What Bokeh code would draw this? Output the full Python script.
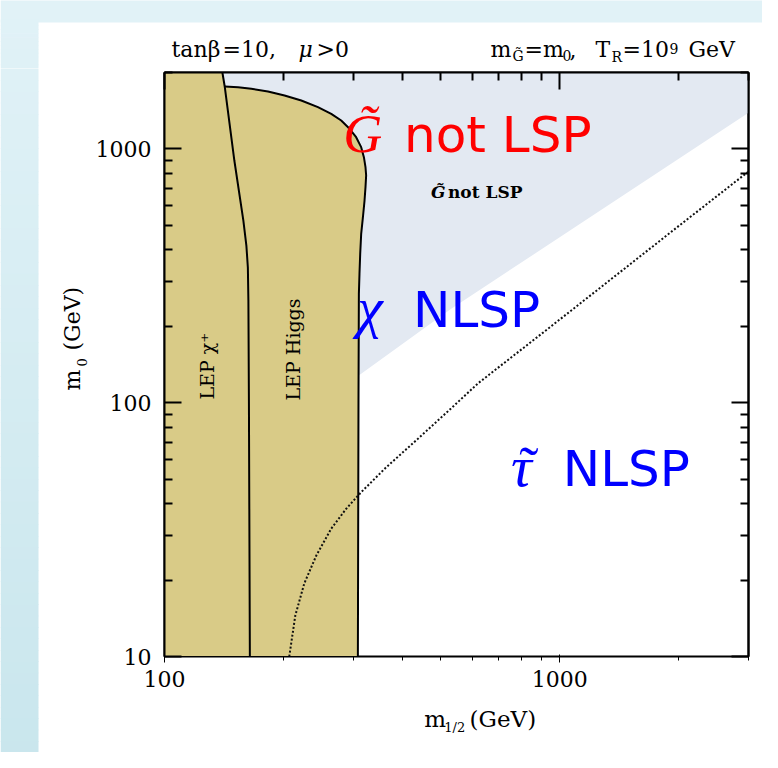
import math
from bokeh.plotting import figure
from bokeh.layouts import row, column
from bokeh.models import (LogAxis, FixedTicker, CustomJSTickFormatter, Label, Range1d)
from bokeh.embed import file_html
from bokeh.resources import INLINE

# ---------------- data (GeV) ----------------
x_lo, x_hi = 100, 3000          # m_1/2 range
y_lo, y_hi = 10, 2000           # m_0 range
x_major = [100, 1000]
x_minor = [200, 300, 400, 500, 600, 700, 800, 900, 2000, 3000]
y_major = [10, 100, 1000]
y_minor = [20, 30, 40, 50, 60, 70, 80, 90, 200, 300, 400, 500, 600, 700, 800, 900, 2000]

# LEP chargino limit
chargino_x = [140.1, 142.0, 150.2, 158.3, 161.1, 162.5, 163.0, 163.5, 164.4]
chargino_y = [2000, 1762, 900, 522, 416, 341, 253, 102, 10]

# LEP Higgs limit
higgs_x = [142.0, 153.5, 165.8, 182.7, 201.2, 221.8, 244.4, 264.1, 279.9, 293.8, 305.3, 314.4,
           319.4, 322.4, 323.6, 322.4, 320.6, 317.6, 314.4, 312.6, 311.3, 310.2, 309.5, 308.4]
higgs_y = [1762, 1751, 1725, 1684, 1623, 1551, 1460, 1375, 1294, 1200, 1112, 1016,
           928, 847, 786, 707, 626, 538, 463, 386, 322, 269, 102, 10]

# gravitino-not-LSP boundary (m_G = m_0)
gnlsp_x = [310, 530, 3000]
gnlsp_y = [128, 234, 1387]

# neutralino / stau NLSP boundary (dotted)
stau_x = [206.8, 214.2, 225.7, 242.1, 264.1, 288.1, 314.4, 363.5, 432.8, 530.5, 620.5, 948.8, 1400.6, 2020.6, 3000]
stau_y = [10, 14.5, 19.4, 25.0, 31.9, 38.2, 44.4, 55.6, 71.0, 94.9, 119.1, 199.6, 321.5, 503.7, 814.7]

# ---------------- page geometry ----------------
TOT_W, TOT_H = 762, 752
TOP_H = 68          # title band height
LEFT_W = 92         # y-title band width
MAIN_W = TOT_W - LEFT_W
B_TOP, B_BOT, B_LEFT, B_RIGHT = 4, 40, 71, 14
FRAME_W, FRAME_H = 585, 584
MAIN_H = B_TOP + FRAME_H + B_BOT
BOT_H = TOT_H - TOP_H - MAIN_H
F_L, F_T = LEFT_W + B_LEFT, TOP_H + B_TOP          # frame corner on page
F_R, F_B = F_L + FRAME_W, F_T + FRAME_H
LX0, LX1 = math.log10(x_lo), math.log10(x_hi)
LY0, LY1 = math.log10(y_lo), math.log10(y_hi)
MID = 0.345   # label anchors are placed at the em-box middle


def dx(px):
    return 10 ** (LX0 + (px - F_L) / FRAME_W * (LX1 - LX0))


def dy(py):
    return 10 ** (LY0 + (F_B - py) / FRAME_H * (LY1 - LY0))


SERIF = "DejaVu Serif"
RED, BLUE = "#ff0000", "#0000ff"
TOP_COL, BOT_COL = (225, 242, 247), (201, 230, 237)
R = math.pi / 2


def grad(py):
    t = min(max(py / 768.0, 0), 1)
    c = tuple(int(round(TOP_COL[k] + (BOT_COL[k] - TOP_COL[k]) * t)) for k in range(3))
    return "#%02x%02x%02x" % c


def band(w, h):
    f = figure(width=w, height=h, x_range=Range1d(0, w), y_range=Range1d(0, h),
               output_backend="svg", toolbar_location=None, min_border=0,
               x_axis_location=None, y_axis_location=None)
    f.grid.visible = False
    f.outline_line_color = None
    f.background_fill_color = "white"
    f.border_fill_color = "white"
    return f


def blabel(f, x0, y0, h, txt, px, py, size, font=SERIF, style="normal", color="black",
           angle=0.0, align="left"):
    # (px, py): baseline start point on the page
    if angle:
        ax, ay = px - MID * size, py
    else:
        ax, ay = px, py - MID * size
    f.add_layout(Label(x=ax - x0, y=(y0 + h) - ay, text=txt, text_font=font,
                       text_font_size="%dpx" % size, text_font_style=style,
                       text_color=color, angle=angle, text_align=align,
                       text_baseline="middle"))


def strip(f, x0, y0, h, left, right, top, bottom, n):
    step = (bottom - top) / n
    ls, rs, ts, bs, cs = [], [], [], [], []
    for i in range(n):
        a, b = top + i * step, top + (i + 1) * step
        ls.append(left - x0); rs.append(right - x0)
        ts.append((y0 + h) - a + (2 if i == 0 else 0))
        bs.append((y0 + h) - b - (2 if i == n - 1 else 0.6))
        cs.append(grad((a + b) / 2))
    f.quad(left=ls, right=rs, top=ts, bottom=bs, fill_color=cs, line_color=None)


# ---------------- title band ----------------
tb = band(TOT_W, TOP_H)
tb.quad(left=[0], right=[TOT_W], top=[TOP_H + 2], bottom=[TOP_H - 22], fill_color=grad(0), line_color=None)
strip(tb, 0, 0, TOP_H, 0, 38, 21, TOP_H, 12)
T = lambda *a, **k: blabel(tb, 0, 0, TOP_H, *a, **k)
T("tanβ", 171, 57, 22)
T("=10,", 222, 57, 22)
T("μ", 298, 57, 22, style="italic")
T(">0", 316, 57, 22)
T("m", 490, 57, 22)
T("G\u0303", 512, 60, 14)
T("=m", 524, 57, 22)
T("0", 562, 60, 14)
T(",", 569, 57, 22)
T("T", 595, 57, 22)
T("R", 611, 61, 14)
T("=10", 622, 57, 22)
T("9", 669, 53, 14)
T("GeV", 688, 57, 22)

# ---------------- left band (y title) ----------------
LH = TOT_H - TOP_H
lb = band(LEFT_W, LH)
strip(lb, 0, TOP_H, LH, 0, 38, TOP_H, TOT_H, 60)
L = lambda *a, **k: blabel(lb, 0, TOP_H, LH, *a, **k)
L("m", 80, 390, 22, angle=R)
L("0", 86, 366, 13, angle=R)
L("(GeV)", 80, 350, 22, angle=R)

# ---------------- bottom band (x title) ----------------
bb = band(MAIN_W, BOT_H)
BY0 = TOP_H + MAIN_H
Bt = lambda *a, **k: blabel(bb, LEFT_W, BY0, BOT_H, *a, **k)
Bt("m", 390, 726, 23)
Bt("1/2", 413, 731, 13)
Bt("(GeV)", 442, 726, 23)

# ---------------- main plot ----------------
p = figure(width=MAIN_W, height=MAIN_H, x_axis_type="log", y_axis_type="log",
           x_range=Range1d(x_lo, x_hi), y_range=Range1d(y_lo, y_hi),
           output_backend="svg", toolbar_location=None,
           min_border_left=B_LEFT, min_border_right=B_RIGHT,
           min_border_top=B_TOP, min_border_bottom=B_BOT)
p.xgrid.visible = False
p.ygrid.visible = False
p.background_fill_color = "white"
p.border_fill_color = "white"
p.outline_line_color = "black"
p.outline_line_width = 2

# gravitino not LSP region
p.patch([x_lo] + gnlsp_x + [x_hi, x_lo], [gnlsp_y[0]] + gnlsp_y + [y_hi, y_hi],
        fill_color="#e3e9f2", line_color=None)

# LEP excluded region
tan_x = [x_lo, x_lo, chargino_x[0]] + higgs_x
tan_y = [y_lo, y_hi, chargino_y[0]] + higgs_y
p.patch(tan_x, tan_y, fill_color="#d9cb87", line_color=None)

p.line(chargino_x, chargino_y, line_color="black", line_width=2)
p.line(higgs_x, higgs_y, line_color="black", line_width=2)
p.line(stau_x, stau_y, line_color="#111111", line_width=2, line_dash="2 2")

for ax in (p.xaxis[0], p.yaxis[0]):
    ax.major_label_text_font = SERIF
    ax.major_label_text_font_size = "22px"
    ax.major_label_text_color = "black"
    ax.formatter = CustomJSTickFormatter(code="return tick.toFixed(0)")
p.xaxis[0].ticker = FixedTicker(ticks=x_major, minor_ticks=x_minor)
p.yaxis[0].ticker = FixedTicker(ticks=y_major, minor_ticks=y_minor)
p.xaxis[0].major_label_standoff = 8
p.yaxis[0].major_label_standoff = 13

top_ax = LogAxis(ticker=FixedTicker(ticks=x_major, minor_ticks=x_minor),
                 formatter=CustomJSTickFormatter(code="return ''"))
right_ax = LogAxis(ticker=FixedTicker(ticks=y_major, minor_ticks=y_minor),
                   formatter=CustomJSTickFormatter(code="return ''"))
for ax in (top_ax, right_ax):
    ax.major_label_text_font_size = "1px"
    ax.major_label_standoff = 0
p.add_layout(top_ax, "above")
p.add_layout(right_ax, "right")
for ax in (p.xaxis[0], p.yaxis[0], top_ax, right_ax):
    ax.major_tick_in = 17
    ax.major_tick_out = 0
    ax.minor_tick_in = 8
    ax.minor_tick_out = 0
    ax.major_tick_line_width = 2
    ax.minor_tick_line_width = 2
    ax.axis_line_width = 2


def lab(text, px, py, size, font=SERIF, style="normal", color="black", align="left", angle=0.0):
    # (px, py): baseline start point on the page
    if angle:
        ax_, ay_ = px - MID * size, py
    else:
        ax_, ay_ = px, py - MID * size
    p.add_layout(Label(x=dx(ax_), y=dy(ay_), text=text, text_font=font,
                       text_font_size="%dpx" % size, text_font_style=style,
                       text_color=color, angle=angle, text_align=align,
                       text_baseline="middle"))


lab("G\u0303", 342, 152, 54, font="Liberation Serif", style="italic", color=RED)
lab("not LSP", 403, 152, 50, font="DejaVu Sans", color=RED)
lab("χ", 356, 327, 58, font="Liberation Serif", style="italic", color=BLUE)
lab("NLSP", 412, 327, 50, font="DejaVu Sans", color=BLUE)
lab("τ", 510, 486, 58, font="Liberation Serif", style="italic", color=BLUE)
lab("\u02dc", 528, 486, 58, font="Liberation Serif", color=BLUE, align="center")
lab("NLSP", 562, 486, 50, font="DejaVu Sans", color=BLUE)
lab("G\u0303", 430, 197, 17, style="bold italic")
lab("not LSP", 447, 197, 17, style="bold")
lab("LEP χ⁺", 212, 399, 19, angle=R)
lab("LEP Higgs", 298, 400, 19, angle=R)

layout = column(tb, row(lb, column(p, bb, spacing=0), spacing=0), spacing=0)
open("out.html", "w").write(file_html(layout, INLINE))
